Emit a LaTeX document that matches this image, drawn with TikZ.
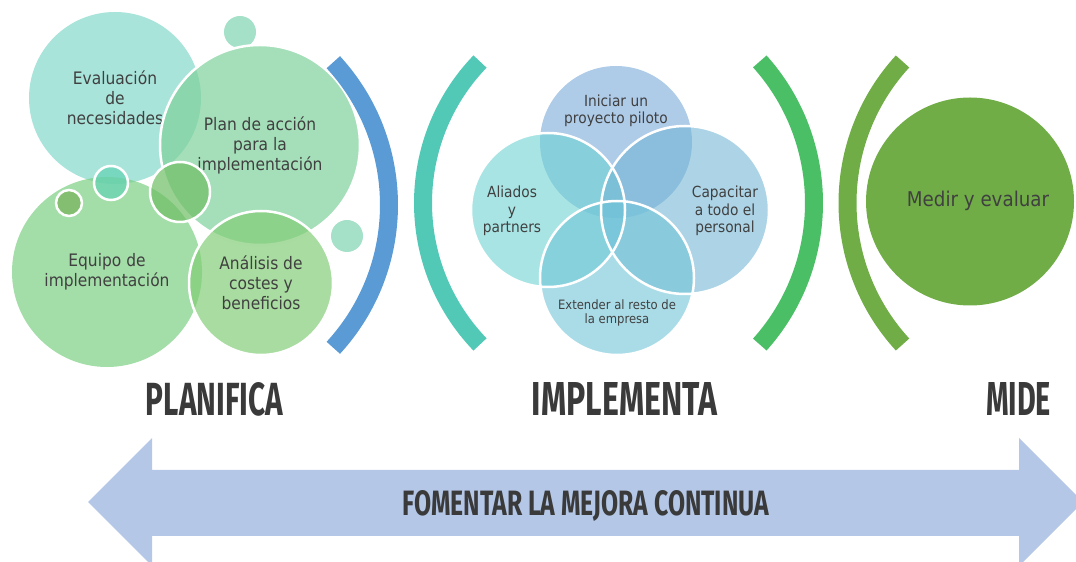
\documentclass[tikz,border=0pt]{standalone}
\usepackage{fontspec}
\setmainfont[FakeStretch=0.9]{DejaVu Sans}
\newfontfamily\headfont{Fira Sans}
\usepackage{graphicx}
\definecolor{txt}{RGB}{64,64,64}
\definecolor{headc}{RGB}{58,58,58}
\definecolor{cEval}{RGB}{131,216,202}
\definecolor{cPlan}{RGB}{126,209,155}
\definecolor{cEquipo}{RGB}{124,206,131}
\definecolor{cAnalisis}{RGB}{131,205,119}
\definecolor{cSmallLight}{RGB}{127,212,176}
\definecolor{cSmallA}{RGB}{110,190,100}
\definecolor{cSmallB}{RGB}{100,210,180}
\definecolor{cSmallC}{RGB}{120,180,90}
\definecolor{cTop}{RGB}{120,168,217}
\definecolor{cLeft}{RGB}{110,210,210}
\definecolor{cRight}{RGB}{117,183,213}
\definecolor{cBottom}{RGB}{113,197,217}
\definecolor{arcBlue}{RGB}{91,155,213}
\definecolor{arcTeal}{RGB}{82,201,182}
\definecolor{arcGreen}{RGB}{74,191,101}
\definecolor{arcOlive}{RGB}{112,173,71}
\definecolor{arrowc}{RGB}{180,199,231}
\tikzset{
  bubble/.style={circle, inner sep=0pt, outer sep=0pt, fill opacity=0.7, text opacity=1, text=txt, align=center},
  venn/.style={circle, inner sep=0pt, outer sep=0pt, fill opacity=0.6, text opacity=1, text=txt, align=center},
  rim/.style={draw=white, line width=2.5pt},
  bigtext/.style={font=\fontsize{17.2}{20}\selectfont},
  venntext/.style={font=\fontsize{15.3}{17.5}\selectfont},
  bracket/.style={line width=18pt},
  heading/.style={inner sep=0pt, text=headc},
}
\begin{document}
\begin{tikzpicture}[x=1pt,y=1pt]
\useasboundingbox (0,0) rectangle (1076,562);
\clip (0,0) rectangle (1076,562);

% ---- PLANIFICA group ----
\node[bubble, fill=cSmallLight, minimum size=32pt] (s1) at (240,530) {};
\node[bubble, fill=cEval, minimum size=172pt, bigtext] (eval) at (115,464) {Evaluación\\de\\necesidades};
\node[bubble, rim, fill=cPlan, minimum size=200pt, bigtext] (plan) at (260,417) {Plan de acción\\para la\\implementación};
\node[bubble, fill=cEquipo, minimum size=190pt, bigtext] (equipo) at (107,290) {Equipo de\\implementación};
\node[bubble, rim, fill=cAnalisis, minimum size=144pt, bigtext] (analisis) at (261,279) {Análisis de\\costes y\\beneficios};
\node[bubble, fill=cSmallLight, minimum size=32pt] (s2) at (347,326) {};
\node[bubble, rim, fill=cSmallA, minimum size=60pt] (s3) at (180,370) {};
\node[bubble, rim, fill=cSmallB, minimum size=34pt] (s4) at (111,379) {};
\node[bubble, rim, fill=cSmallC, minimum size=26pt] (s5) at (69,359) {};

\coordinate (arcA) at (178,357);
\draw[bracket, arcBlue] (arcA) ++(-42.6:211pt) arc[start angle=-42.6, end angle=42.6, radius=211pt];

% ---- IMPLEMENTA group ----
\coordinate (arcB) at (627,359);
\draw[bracket, arcTeal] (arcB) ++(136.1:204pt) arc[start angle=136.1, end angle=223.9, radius=204pt];

\node[venn, fill=cTop, minimum size=152pt] (top) at (616,420) {};
\node[venn, fill=cLeft, minimum size=154pt] (left) at (548,352) {};
\node[venn, fill=cRight, minimum size=168pt] (right) at (685,352) {};
\node[venn, fill=cBottom, minimum size=154pt] (bottom) at (617,284) {};
\draw[white, line width=2.5pt] (left.center) circle[radius=77pt];
\draw[white, line width=2.5pt] (right.center) circle[radius=84pt];
\draw[white, line width=2.5pt] (bottom.center) circle[radius=77pt];

\node[venntext, text=txt, align=center] (tIni) at (616,451) {Iniciar un\\proyecto piloto};
\node[venntext, text=txt, align=center] (tAli) at (512,351) {Aliados\\y\\partners};
\node[venntext, text=txt, align=center] (tCap) at (725,351) {Capacitar\\a todo el\\personal};
\node[font=\fontsize{12.9}{13.5}\selectfont, text=txt, align=center] (tExt) at (617,249) {Extender al resto de\\la empresa};

\coordinate (arcC) at (602,359);
\draw[bracket, arcGreen] (arcC) ++(-41.9:212pt) arc[start angle=-41.9, end angle=41.9, radius=212pt];

% ---- MIDE group ----
\coordinate (arcD) at (1057,359);
\draw[bracket, arcOlive] (arcD) ++(137.5:209.5pt) arc[start angle=137.5, end angle=222.5, radius=209.5pt];
\node[circle, inner sep=0pt, fill=arcOlive, minimum size=208pt] (medir) at (970,360.5) {};
\node[font=\fontsize{20.3}{22}\selectfont, text=txt] (tMed) at (978,361) {Medir y evaluar};

% ---- headings ----
\node[heading] (hPlan) at (214.5,162.5) {\resizebox{137pt}{33pt}{\headfont\bfseries PLANIFICA}};
\node[heading] (hImp) at (624.5,162.5) {\resizebox{185pt}{33pt}{\headfont\bfseries IMPLEMENTA}};
\node[heading] (hMid) at (1018.5,162.5) {\resizebox{65pt}{33pt}{\headfont\bfseries MIDE}};

% ---- double arrow ----
\fill[arrowc] (88,60) -- (152,124) -- (152,92) -- (1019,92) -- (1019,124) -- (1083,60) -- (1019,-4) -- (1019,26) -- (152,26) -- (152,-4) -- cycle;
\node[heading] (hFom) at (586,56.5) {\resizebox{366pt}{25pt}{\headfont\bfseries FOMENTAR LA MEJORA CONTINUA}};
\end{tikzpicture}
\end{document}
